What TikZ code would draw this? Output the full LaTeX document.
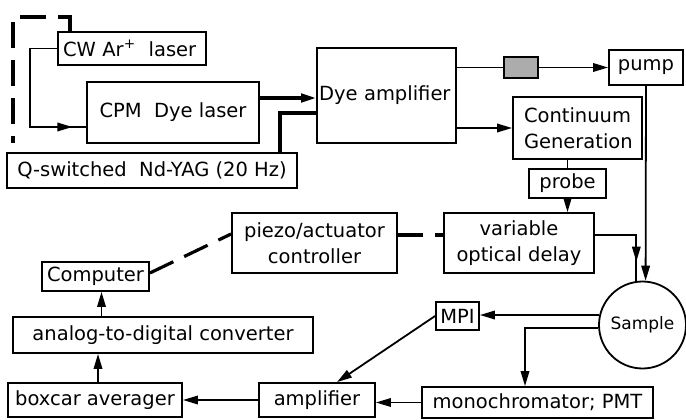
\documentclass[tikz,border=0pt]{standalone}
\usepackage{fontspec}
\setmainfont{DejaVu Sans}
\usetikzlibrary{arrows.meta,decorations.markings}
\begin{document}
\begin{tikzpicture}[x=1pt,y=-1pt,
  box/.style={draw, line width=1.8pt, inner sep=0pt, font=\fontsize{19.5}{26}\selectfont, align=center},
  conn/.style={line width=1.8pt},
  thickconn/.style={line width=3.2pt},
  arrowend/.style={-{Triangle[length=15pt,width=8.5pt]}},
  dashconn/.style={line width=3.2pt, dash pattern=on 26pt off 12pt},
  midtip/.style={postaction={decorate}, decoration={markings, mark=at position #1 with {\arrow{Triangle[length=15pt,width=8.5pt]}}}}
]
\useasboundingbox (0,0) rectangle (686,420);

% boxes
\node[box, minimum width=148pt, minimum height=33pt, text width=138pt, align=left, inner xsep=5pt] (cw) at (132,48.5) {CW Ar\textsuperscript{+}\ \ laser};
\node[box, minimum width=172pt, minimum height=61pt] (cpm) at (173,112.5) {CPM\ \ Dye laser};
\node[box, minimum width=290pt, minimum height=35pt] (yag) at (152,170.5) {Q-switched\ \ Nd-YAG (20 Hz)};
\node[box, minimum width=139pt, minimum height=95pt, text width=135pt, align=left, inner xsep=2pt] (amp) at (386.5,95.5) {Dye amplifier};
\node[draw, line width=1.8pt, fill=gray!65, minimum width=34pt, minimum height=21pt, inner sep=0pt] (filt) at (521,67.5) {};
\node[box, minimum width=74pt, minimum height=35pt] (pump) at (646,67.5) {pump};
\node[box, minimum width=129pt, minimum height=62pt, text width=107pt, inner xsep=11pt, align=left] (cont) at (577.5,128) {Continuum\\Generation};
\node[box, minimum width=77pt, minimum height=29pt] (probe) at (567.5,183.5) {probe};
\node[box, minimum width=150pt, minimum height=60pt] (delay) at (519,243) {variable\\optical delay};
\node[box, minimum width=165pt, minimum height=60pt] (piezo) at (314.5,243) {piezo/actuator\\controller};
\node[box, minimum width=107pt, minimum height=29pt] (computer) at (95.5,276.5) {Computer};
\node[box, minimum width=300pt, minimum height=36pt] (adc) at (163,335) {analog-to-digital converter};
\node[box, minimum width=174pt, minimum height=34pt] (boxcar) at (95,400) {boxcar averager};
\node[box, minimum width=116pt, minimum height=34pt] (ampl) at (317,400) {amplifier};
\node[box, minimum width=231pt, minimum height=31pt] (mono) at (537.5,402.5) {monochromator; PMT};
\node[box, minimum width=43pt, minimum height=28pt] (mpi) at (457.5,316) {MPI};
\node[box, circle, minimum size=87pt, font=\fontsize{17}{20}\selectfont] (sample) at (642.5,325) {Sample};

% helper coordinates
\coordinate (dtop) at (13,17);
\coordinate (dbot) at (13,143);
\coordinate (cwx) at (30,127);
\coordinate (a1) at ([yshift=-2.5pt]amp.west);
\coordinate (a2) at ([yshift=-17.5pt]amp.west);
\coordinate (y1) at ([xshift=128pt]yag.north);
\coordinate (d1) at ([yshift=8pt]delay.east);
\coordinate (d2) at ([yshift=8pt]delay.west);
\coordinate (p1) at ([yshift=8pt]piezo.east);
\coordinate (p2) at ([yshift=9pt]piezo.west);
\coordinate (c2) at ([yshift=3.5pt]computer.east);
\coordinate (b1) at ([xshift=3pt]boxcar.north);
\coordinate (c1) at ([xshift=6pt]computer.south);

% connectors
\draw[dashconn] ([xshift=-62pt]cw.north) |- (dtop) -- (dbot);
\draw[conn, midtip=148pt] (cw.west) -| (cwx) -- (cwx -| cpm.west);
\draw[thickconn, arrowend] (a1 -| cpm.east) -- (a1);
\draw[thickconn] (y1) |- (a2);
\draw[conn] (amp.east |- filt.west) -- (filt.west);
\draw[conn, arrowend] (filt.east) -- (pump.west);
\draw[conn, arrowend] (amp.east |- cont.west) -- (cont.west);
\draw[conn] (cont.south -| probe.north) -- (probe.north);
\draw[conn, arrowend] (probe.south) -- (probe.south |- delay.north);
\draw[conn, midtip=68pt] (d1) -| (sample.98);
\draw[conn, arrowend] (pump.south) -- (sample.86);
\draw[conn, arrowend] (sample.167) -- (sample.167 -| mpi.east);
\draw[conn, arrowend] (sample.184) -| ([xshift=-12.5pt]mono.north);
\draw[conn, arrowend] (mpi.west) -- ([xshift=20pt]ampl.north);
\draw[conn, arrowend] (mono.west) -- (mono.west -| ampl.east);
\draw[conn, arrowend] (ampl.west) -- (boxcar.east);
\draw[conn, arrowend] (b1) -- (b1 |- adc.south);
\draw[conn, arrowend] (c1 |- adc.north) -- (c1);
\draw[dashconn] (c2) -- (p2);
\draw[dashconn, dash pattern=on 25pt off 12pt] (p1) -- (d2);
\end{tikzpicture}
\end{document}
